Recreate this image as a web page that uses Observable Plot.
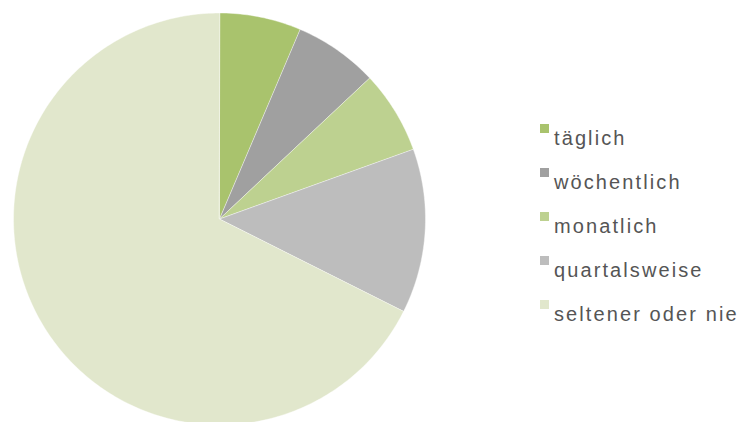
<!DOCTYPE html>
<html>
<head>
<meta charset="utf-8">
<script src="https://cdn.jsdelivr.net/npm/d3@7"></script>
<script src="https://cdn.jsdelivr.net/npm/@observablehq/plot@0.6"></script>
<style>
  html, body { margin: 0; padding: 0; background: #fff; }
  #wrap { position: relative; width: 742px; height: 422px; overflow: hidden; }
  #wrap svg { position: absolute; left: 0; top: 0; }
  #legend { position: absolute; left: 540px; top: 116px; font-family: "Liberation Sans", Arial, sans-serif;
            font-size: 20px; letter-spacing: 2.1px; color: #555555; }
  .row { position: relative; height: 44px; line-height: 44px; white-space: nowrap; padding-left: 14px; }
  .sw { position: absolute; left: 0; top: 8px; width: 9px; height: 9px; }
</style>
</head>
<body>
<div id="wrap"></div>
<script>
const categories = ["täglich", "wöchentlich", "monatlich", "quartalsweise", "seltener oder nie"];
const values = [6.4, 6.6, 6.5, 12.9, 67.6];
const colors = ["#a9c36d", "#a0a0a0", "#bdd190", "#bdbdbd", "#e1e7cc"];

const total = d3.sum(values);
let acc = 0;
const slices = categories.map((c, i) => {
  const a0 = acc / total * 2 * Math.PI;
  acc += values[i];
  const a1 = acc / total * 2 * Math.PI;
  const n = Math.max(2, Math.ceil((a1 - a0) / (Math.PI / 180)));
  const ring = [[0, 0]];
  for (let k = 0; k <= n; k++) {
    const a = a0 + (a1 - a0) * k / n;
    ring.push([Math.sin(a), Math.cos(a)]);
  }
  ring.push([0, 0]);
  return {type: "Feature", properties: {category: c, value: values[i]}, geometry: {type: "Polygon", coordinates: [ring]}};
});

const plot = Plot.plot({
  width: 742,
  height: 422,
  margin: 0,
  projection: d3.geoIdentity().reflectY(true).scale(206).translate([219, 218.5]),
  color: {domain: categories, range: colors},
  marks: [
    Plot.geo(slices, {fill: d => d.properties.category, stroke: "white", strokeWidth: 0.6, strokeOpacity: 0.7})
  ]
});
document.getElementById("wrap").appendChild(plot);

const color = plot.scale("color");
const legend = document.createElement("div");
legend.id = "legend";
categories.forEach((c, i) => {
  const row = document.createElement("div");
  row.className = "row";
  const sw = document.createElement("span");
  sw.className = "sw";
  sw.style.background = color.range[color.domain.indexOf(c)];
  row.appendChild(sw);
  row.appendChild(document.createTextNode(c));
  legend.appendChild(row);
});
document.getElementById("wrap").appendChild(legend);
</script>
</body>
</html>
